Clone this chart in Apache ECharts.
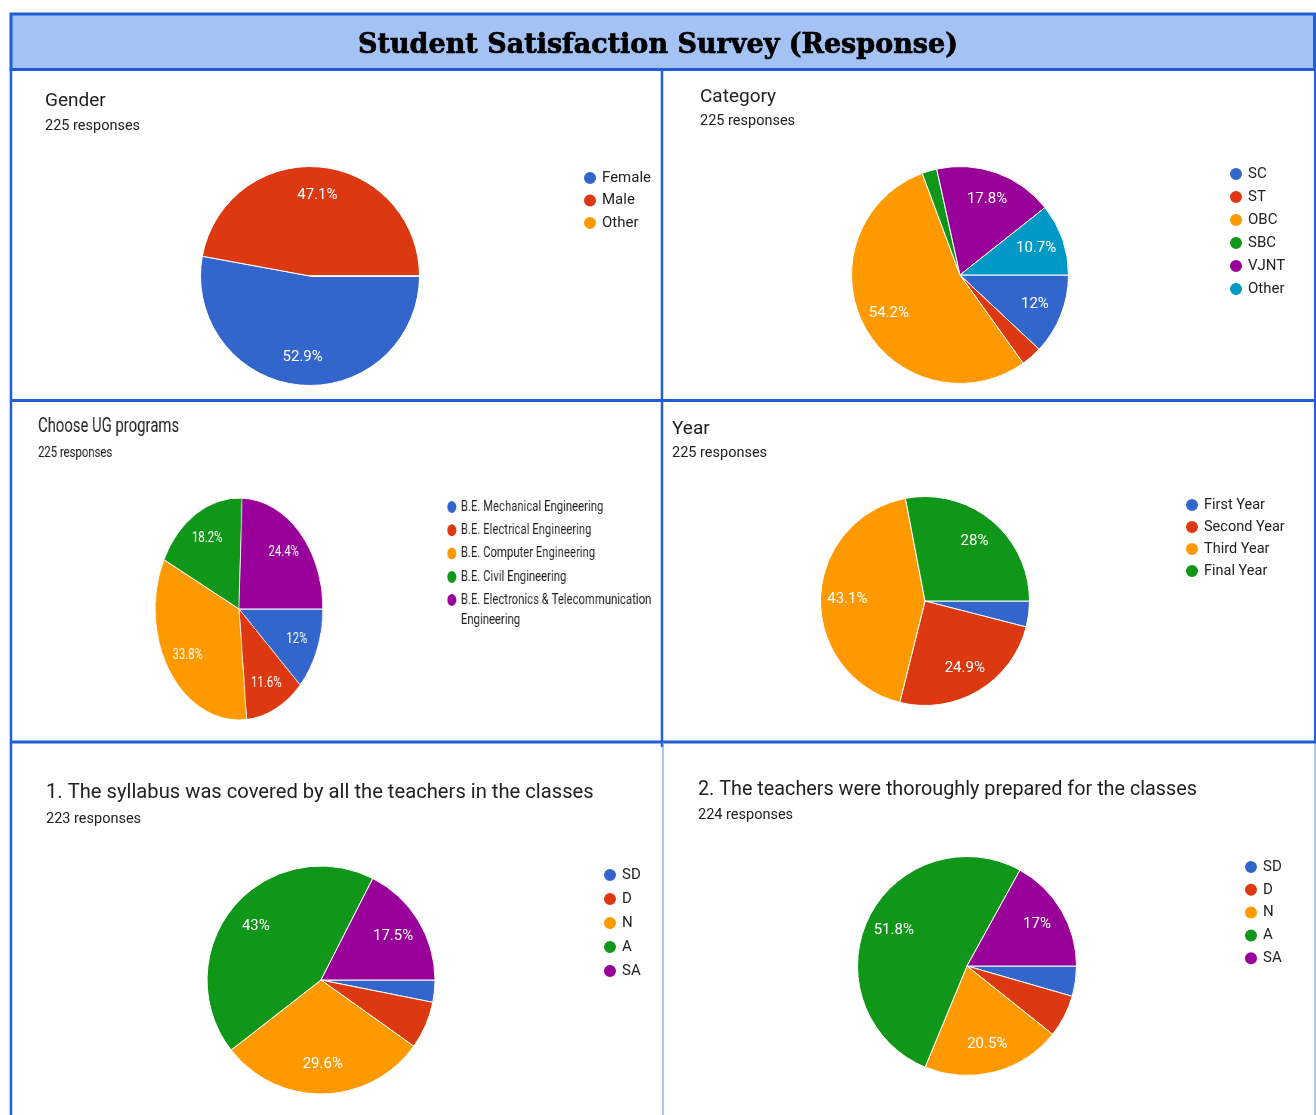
<!DOCTYPE html>
<html>
<head>
<meta charset="utf-8">
<script src="https://cdn.jsdelivr.net/npm/echarts@6/dist/echarts.min.js"></script>
<style>
html,body{margin:0;padding:0;background:#ffffff;}
#page{position:relative;width:1316px;height:1115px;overflow:hidden;background:#ffffff;}
.abs{position:absolute;}
</style>
</head>
<body>
<div id="page">
  <div id="frame" class="abs" style="left:0;top:0;width:1316px;height:1115px"></div>
  <div id="p1" class="abs" style="left:12px;top:71px;width:649px;height:329px"></div>
  <div id="p2" class="abs" style="left:663px;top:71px;width:651px;height:329px"></div>
  <div id="p3" class="abs" style="left:12px;top:402px;width:860px;height:339px;transform:scaleX(0.755);transform-origin:0 0"></div>
  <div id="p4" class="abs" style="left:663px;top:402px;width:651px;height:339px"></div>
  <div id="p5" class="abs" style="left:12px;top:744px;width:650px;height:371px"></div>
  <div id="p6" class="abs" style="left:664px;top:744px;width:650px;height:371px"></div>
</div>
<script>
// ---------- data ----------
const mainTitle = 'Student Satisfaction Survey (Response)';
const panelTitles = [
  'Gender',
  'Category',
  'Choose UG programs',
  'Year',
  '1. The syllabus was covered by all the teachers in the classes',
  '2. The teachers were thoroughly prepared for the classes'
];
const responseCounts = [225, 225, 225, 225, 223, 224];

const genderCats = ['Female', 'Male', 'Other'];
const genderVals = [119, 106, 0];

const categoryCats = ['SC', 'ST', 'OBC', 'SBC', 'VJNT', 'Other'];
const categoryVals = [27, 7, 122, 5, 40, 24];

const ugCats = [
  'B.E. Mechanical Engineering',
  'B.E. Electrical Engineering',
  'B.E. Computer Engineering',
  'B.E. Civil Engineering',
  'B.E. Electronics & Telecommunication Engineering'
];
const ugVals = [27, 26, 76, 41, 55];

const yearCats = ['First Year', 'Second Year', 'Third Year', 'Final Year'];
const yearVals = [9, 56, 97, 63];

const likertCats = ['SD', 'D', 'N', 'A', 'SA'];
const q1Vals = [7, 15, 66, 96, 39];
const q2Vals = [10, 14, 46, 116, 38];

// ---------- styling ----------
const PALETTE = ['#3366cc', '#dc3912', '#ff9900', '#109618', '#990099', '#0099c6'];
const BORDER = '#1f5ed6';
const FONT = 'Roboto, "Noto Sans", Arial, sans-serif';

function pct(v, total) {
  const p = Math.round(v / total * 1000) / 10;
  return (p % 1 === 0 ? p.toFixed(0) : p.toFixed(1)) + '%';
}

function makePanel(id, o) {
  const total = o.vals.reduce((a, b) => a + b, 0);
  const data = o.cats.map((c, i) => ({ name: c, value: o.vals[i] }));
  const chart = echarts.init(document.getElementById(id), null, { renderer: 'canvas' });
  const legends = o.legends.map(g => ({
    orient: 'vertical',
    left: g.left,
    top: g.top,
    itemGap: g.gap,
    padding: 0,
    icon: 'circle',
    itemWidth: 14,
    itemHeight: 14,
    selectedMode: false,
    formatter: g.formatter,
    textStyle: Object.assign({
      fontFamily: FONT,
      fontSize: g.fontSize || 15,
      color: '#222222',
      lineHeight: 16
    }, g.textStyle || {}),
    data: g.names
  }));
  chart.setOption({
    animation: false,
    color: PALETTE,
    title: {
      text: o.title,
      subtext: o.sub,
      left: o.tLeft,
      top: o.tTop,
      itemGap: o.tGap,
      padding: 0,
      textStyle: { fontFamily: FONT, fontWeight: 'normal', fontSize: o.tSize, color: '#202124', lineHeight: o.tLH },
      subtextStyle: { fontFamily: FONT, fontSize: o.sSize || 14.5, color: '#202124', lineHeight: 18 }
    },
    legend: legends,
    series: [
      {
        type: 'pie',
        silent: true,
        center: o.center,
        radius: [0, o.r],
        startAngle: 0,
        clockwise: true,
        label: { show: false },
        labelLine: { show: false },
        itemStyle: { borderColor: '#ffffff', borderWidth: 1 },
        data: data
      },
      {
        type: 'pie',
        silent: true,
        center: o.center,
        radius: [o.r * 0.43, o.r],
        startAngle: 0,
        clockwise: true,
        itemStyle: { color: 'rgba(0,0,0,0)', borderWidth: 0 },
        labelLine: { show: false },
        label: {
          show: true,
          position: 'inside',
          color: '#ffffff',
          fontFamily: FONT,
          fontSize: 15,
          formatter: p => (p.value / total >= 0.075 ? pct(p.value, total) : '')
        },
        data: data
      }
    ]
  });
}

// ---------- frame ----------
const frame = echarts.init(document.getElementById('frame'), null, { renderer: 'canvas' });
frame.setOption({
  animation: false,
  title: {
    text: mainTitle,
    left: 'center',
    top: 30,
    padding: 0,
    textStyle: {
      fontFamily: '"DejaVu Serif", serif', fontWeight: 'bold', fontSize: 27, color: '#000000',
      lineHeight: 32, textBorderColor: '#000000', textBorderWidth: 0.7
    }
  },
  graphic: [
    { type: 'rect', z: -1, shape: { x: 11, y: 14, width: 1303.5, height: 55.5 }, style: { fill: '#a4c2f4', stroke: BORDER, lineWidth: 3 } },
    { type: 'line', shape: { x1: 11, y1: 69.5, x2: 11, y2: 1115 }, style: { stroke: BORDER, lineWidth: 2.5 } },
    { type: 'line', shape: { x1: 1315, y1: 69.5, x2: 1315, y2: 742 }, style: { stroke: BORDER, lineWidth: 2 } },
    { type: 'line', shape: { x1: 1315, y1: 742, x2: 1315, y2: 1115 }, style: { stroke: '#5a8ee6', lineWidth: 1 } },
    { type: 'line', shape: { x1: 11, y1: 400.5, x2: 1316, y2: 400.5 }, style: { stroke: BORDER, lineWidth: 3 } },
    { type: 'line', shape: { x1: 11, y1: 742, x2: 1316, y2: 742 }, style: { stroke: BORDER, lineWidth: 3 } },
    { type: 'line', shape: { x1: 662, y1: 69.5, x2: 662, y2: 747 }, style: { stroke: BORDER, lineWidth: 2.5 } },
    { type: 'line', shape: { x1: 663, y1: 742, x2: 663, y2: 1115 }, style: { stroke: '#5a8ee6', lineWidth: 1 } }
  ]
});

// ---------- panels ----------
makePanel('p1', {
  title: panelTitles[0], sub: responseCounts[0] + ' responses',
  tLeft: 33, tTop: 19, tGap: 5, tSize: 19, tLH: 22,
  cats: genderCats, vals: genderVals,
  center: [298, 205], r: 109.5,
  legends: [{ names: genderCats, left: 570, top: 99, gap: 6.5 }]
});

makePanel('p2', {
  title: panelTitles[1], sub: responseCounts[1] + ' responses',
  tLeft: 37, tTop: 15, tGap: 4, tSize: 19, tLH: 22,
  cats: categoryCats, vals: categoryVals,
  center: [297, 204], r: 108.5,
  legends: [{ names: categoryCats, left: 565, top: 95, gap: 7 }]
});

makePanel('p3', {
  title: panelTitles[2], sub: responseCounts[2] + ' responses',
  tLeft: 34.4, tTop: 14, tGap: 6, tSize: 19.7, tLH: 22, sSize: 15,
  cats: ugCats, vals: ugVals,
  center: [300.7, 207], r: 111,
  legends: [
    { names: ugCats.slice(0, 4), left: 574.5, top: 97, gap: 7.3 },
    {
      names: ugCats.slice(4), left: 574.5, top: 168, gap: 0,
      formatter: n => { const k = n.lastIndexOf(' '); return '\u00a0\n' + n.slice(0, k) + '\n' + n.slice(k + 1); },
      textStyle: { lineHeight: 20 }
    }
  ]
});

makePanel('p4', {
  title: panelTitles[3], sub: responseCounts[3] + ' responses',
  tLeft: 9, tTop: 16, tGap: 4, tSize: 19, tLH: 22,
  cats: yearCats, vals: yearVals,
  center: [262, 199], r: 104.5,
  legends: [{ names: yearCats, left: 521, top: 95, gap: 6, fontSize: 14.5 }]
});

makePanel('p5', {
  title: panelTitles[4], sub: responseCounts[4] + ' responses',
  tLeft: 34, tTop: 37, tGap: 5, tSize: 20.2, tLH: 24,
  cats: likertCats, vals: q1Vals,
  center: [309, 236], r: 114,
  legends: [{ names: likertCats, left: 590, top: 123, gap: 8 }]
});

makePanel('p6', {
  title: panelTitles[5], sub: responseCounts[5] + ' responses',
  tLeft: 34, tTop: 34, tGap: 4, tSize: 19.8, tLH: 24,
  cats: likertCats, vals: q2Vals,
  center: [303, 222], r: 109.5,
  legends: [{ names: likertCats, left: 579, top: 115, gap: 6.8 }]
});
</script>
</body>
</html>
